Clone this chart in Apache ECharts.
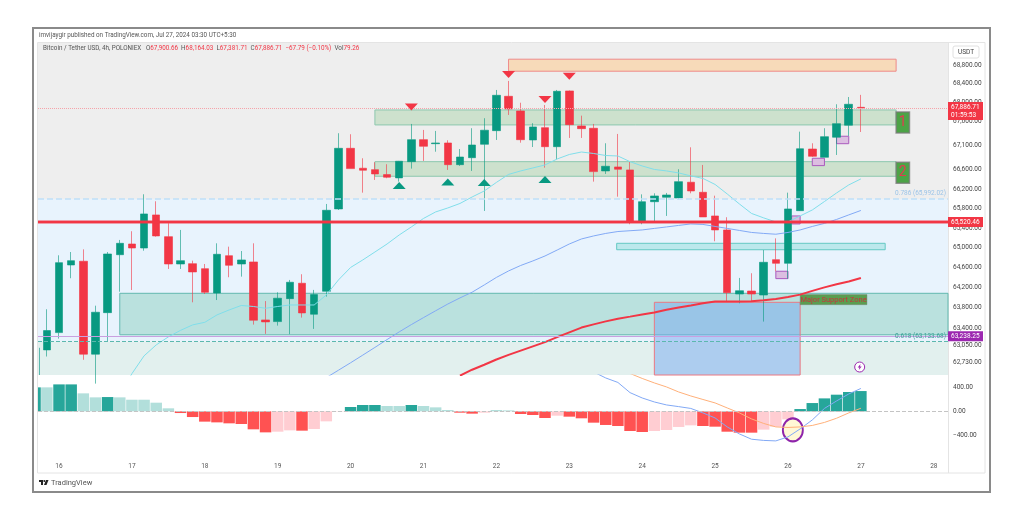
<!DOCTYPE html>
<html>
<head>
<meta charset="utf-8">
<title>BTC/USDT 4h</title>
<script src="https://cdn.jsdelivr.net/npm/echarts@6/dist/echarts.min.js"></script>
<style>
  html, body { margin: 0; padding: 0; background: #fff; }
  #chart { width: 1024px; height: 520px; }
</style>
</head>
<body>
<div id="chart"></div>
<script>
// bars are numbered from the "16" day label, 6 bars per day
const firstBar = -1
const opens = [62968,63308,64653,64728,62885,63702,64860,65076,64995,65667,65225,64673,64679,64579,64092,64840,64673,64714,63558,63525,63980,64287,63671,64126,65789,67041,66627,66598,66495,66427,66763,67222,67137,67152,66701,66846,67125,67410,68134,67824,67215,67473,67075,68247,67509,67460,66571,66654,66592,65524,65937,66028,66014,66338,66131,65646,65361,64072,64132,64052,64760,64687,65754,67026,66854,67272,67524,67900.66]
const closes = [63348,64700,64740,62885,63710,64874,65090,64995,65687,65239,64673,64740,64513,64106,64868,64647,64754,63552,63519,63988,64307,63696,64060,65762,67041,66619,66586,66509,66441,66772,67222,67083,67152,66701,66860,67110,67419,68155,67866,67221,67488,67075,68240,67536,67452,66557,66668,66606,65524,65937,66055,66075,66350,66158,65626,65361,64098,64138,64072,64707,64687,65789,67032,66875,67284,67557,67965,67886.71]
const lows = [62839,63190,64387,62775,62312,63131,64118,64152,64940,65225,64573,64573,63907,64072,63952,64407,64419,63466,63283,63446,63277,63604,63381,64020,65768,66619,66123,66385,66420,66350,66619,66778,66970,66592,66675,66571,65748,67215,67740,67158,67068,66639,66813,67257,67257,66350,66509,66040,65477,65477,65524,65646,65990,66110,65626,65131,63932,63887,63932,63525,64527,64379,65748,66860,66854,66902,67299,67381.71]
const highs = [63769,64848,64914,64968,63840,64914,65158,65335,66090,65946,65498,65361,64740,64673,65090,65022,64934,65090,63932,64106,64353,64467,64154,65891,67356,67335,66834,66751,66710,66778,67551,67425,67404,67209,67026,67461,67671,68268,68460,67998,67566,67950,68268,68257,67725,67551,67146,67341,66763,66088,66110,66117,66606,67062,66695,66061,65620,64393,64487,64954,65190,66123,67389,67146,67461,67965,68119,68164.03]

const cyanStart = 5
const cyanMa = [62100,62505,62852,63066,63224,63352,63460,63511,63657,63755,63844,63824,63789,63824,63854,63854,63854,64052,64353,64603,64754,64914,65076,65259,65422,65595,65728,65809,65901,66034,66158,66334,66499,66571,66633,66695,66819,66912,66964,66933,66891,66881,66763,66674,66602,66571,66530,66468,66416,66292,66096,65891,65697,65606,65524,65524,65646,65768,65941,66117,66282,66406]
const blueStart = 22
const blueMa = [62428,62572,62717,62866,63017,63171,63322,63466,63604,63739,63873,63994,64108,64253,64403,64533,64643,64734,64834,64954,65076,65178,65239,65290,65329,65345,65361,65392,65422,65453,65483,65473,65432,65392,65351,65310,65290,65274,65310,65361,65432,65494,65575,65667,65758]
const redStart = 33
const redMa = [62466,62582,62678,62781,62872,62954,63037,63120,63218,63312,63407,63470,63529,63582,63623,63665,63706,63761,63804,63844,63887,63921,63922,63924,63928,63948,63974,64014,64060,64134,64204,64268,64323,64393]

// MACD pane
const histCutOff = 396
const histStart = -1
const histValues = [396,445,445,297,231,236,231,192,192,143,50,-28,-94,-170,-182,-198,-209,-297,-347,-336,-314,-319,-292,-165,-5,72,105,105,88,88,105,88,66,22,-22,-38,-22,22,16,-44,-60,-110,-72,-88,-115,-187,-225,-242,-325,-341,-325,-308,-258,-231,-242,-253,-336,-352,-352,-302,-253,-132,38,137,214,275,319,335]
const histStrong = [0,1,1,0,0,1,0,0,0,0,0,1,1,1,1,1,1,1,1,0,0,1,0,0,0,1,1,1,0,0,1,0,0,0,1,1,0,0,0,1,1,1,0,1,1,1,1,1,1,1,0,0,0,0,1,1,1,1,1,0,0,0,1,1,1,1,1,1]
const macdStart = 44
const macdLine = [650,551,477,309,221,155,106,78,48,-26,-109,-257,-373,-460,-480,-488,-422,-290,-142,48,172,287,378]
const signalStart = 46
const signalLine = [700,625,543,469,403,320,254,196,139,56,-26,-125,-200,-257,-266,-257,-233,-183,-114,-26,51]

const priceTicks = [68800,68400,68000,67600,67100,66600,66200,65800,65400,65000,64600,64200,63800,63400,63050,62730]
const macdTicks = [400,0,-400]
const dayTicks = [0,6,12,18,24,30,36,42,48,54,60,66,72]
const dayLabels = ['16','17','18','19','20','21','22','23','24','25','26','27','28']

const lastPrice = 67886.71
const supportLine = 65520.46
const purpleLine = 63238.25
const fibHigh = 65992.02
const fibLow = 63133.68

const peakBars = [29,37,40,42]
const peakPrices = [67908,68599,68066,68557]
const troughBars = [28,32,35,40]
const troughPrices = [66272,66344,66334,66395]

const xMin = -1.73
const xMax = 73.17
const priceMin = 62479
const priceMax = 69272

const green = '#089981'
const red = '#f23645'

function fmt(v) {
  return v.toLocaleString('en-US', { minimumFractionDigits: 2, maximumFractionDigits: 2 })
}
function pairs(start, values) {
  return values.map((v, i) => [start + i, v])
}
function zone(x0, x1, top, bottom, fill, border, extra) {
  const first = Object.assign({
    xAxis: x0,
    yAxis: top,
    itemStyle: { color: fill, borderColor: border, borderWidth: 1 }
  }, extra || {})
  return [first, { xAxis: x1, yAxis: bottom }]
}
function flag(name, x0, x1, top, bottom, fill, textColor, fontSize, borderWidth) {
  const z = zone(x0, x1, top, bottom, fill, 'rgba(120,120,120,0.75)', {
    name: name,
    label: { show: true, position: 'inside', color: textColor, fontSize: fontSize, formatter: '{b}' }
  })
  z[0].itemStyle.borderWidth = borderWidth
  return z
}

const candles = opens.map((o, i) => [firstBar + i, o, closes[i], lows[i], highs[i]])

const areas = [
  zone(xMin, xMax, priceMax, fibHigh, '#eeeeee', 'transparent'),
  zone(xMin, xMax, fibHigh, fibLow, '#e8f3fd', 'transparent'),
  zone(xMin, xMax, fibLow, priceMin, '#e2f0ee', 'transparent'),
  zone(5, xMax, 64086, 63265, '#bae1de', '#63b9af'),
  zone(37, 68.9, 68924, 68667, '#f7dab9', '#ee8a8a'),
  zone(26, 68.9, 67845, 67530, '#cde1cd', '#8cc8af'),
  zone(26, 68.9, 66763, 66461, '#cde1cd', '#8cc8af'),
  zone(45.9, 68, 65090, 64960, '#bce8ec', '#64c8c3'),
  zone(49, 61, 63907, priceMin, 'rgba(120,170,240,0.5)', '#eb7882'),
  zone(64, 65, 67293, 67137, '#dcbee1', '#aa5abe'),
  zone(62, 63, 66834, 66681, '#dcbee1', '#aa5abe'),
  zone(60.3, 61, 65646, 65483, '#dcbee1', '#aa5abe'),
  zone(59, 60, 64527, 64379, '#dcbee1', '#aa5abe'),
  flag('1', 68.9, 70, 67803, 67362, '#4ca346', '#e53950', 14, 1.5),
  flag('2', 68.9, 70, 66751, 66317, '#4ca346', '#e53950', 14, 1.5),
  flag('Major Support Zone', 61, 66.5, 64060, 63860, '#5a9e50', '#c8343c', 7.5, 0.5)
]

function priceTag(value, text, color, dy) {
  return {
    yAxis: value,
    lineStyle: { width: 0, color: 'transparent' },
    label: {
      show: true,
      position: 'end',
      distance: 0,
      offset: [0, dy],
      formatter: text,
      color: '#fff',
      backgroundColor: color,
      fontSize: 6.5,
      lineHeight: 8,
      width: 29,
      align: 'left',
      padding: [1, 3]
    }
  }
}

const lines = [
  { yAxis: lastPrice, lineStyle: { color: '#f5a3aa', type: 'dotted', width: 1 }, label: { show: false } },
  { yAxis: fibHigh, lineStyle: { color: '#bfe0f8', type: 'dashed', width: 1.5 },
    label: { show: true, position: 'insideEndTop', distance: 2, color: '#9cc4e8', fontSize: 6.5, formatter: '0.786 (' + fmt(fibHigh) + ')' } },
  { yAxis: fibLow, lineStyle: { color: '#5cb8ae', type: 'dashed', width: 1 },
    label: { show: true, position: 'insideEndTop', distance: 2, color: '#3aa397', fontSize: 6.5, formatter: '0.618 (' + fmt(fibLow) + ')' } },
  { yAxis: purpleLine, lineStyle: { color: '#c9a0e0', type: 'solid', width: 1 }, label: { show: false } },
  { yAxis: supportLine, lineStyle: { color: 'rgba(242,54,69,0.45)', type: 'solid', width: 4 }, label: { show: false } },
  { yAxis: supportLine, lineStyle: { color: red, type: 'solid', width: 2 }, label: { show: false } },
  [
    { coord: [-1.65, 63010], lineStyle: { color: '#5cb8ae', type: 'solid', width: 1 }, label: { show: false } },
    { coord: [-1.65, priceMin] }
  ],
  priceTag(lastPrice, fmt(lastPrice) + '\n01:59:53', red, 3),
  priceTag(supportLine, fmt(supportLine), red, 0),
  priceTag(purpleLine, fmt(purpleLine), '#9c27b0', 0)
]

const option = {
  animation: false,
  backgroundColor: '#fff',
  textStyle: { fontFamily: 'Roboto, sans-serif' },
  title: [
    {
      text: 'imvijaygir published on TradingView.com, Jul 27, 2024 03:30 UTC+5:30',
      left: 39, top: 32, padding: 0,
      textStyle: { fontSize: 6.3, fontWeight: 'normal', color: '#555' }
    },
    {
      text: '{g|Bitcoin / Tether USD, 4h, POLONIEX   O}{r|67,900.66}{g|  H}{r|68,164.03}{g|  L}{r|67,381.71}{g|  C}{r|67,886.71}{r|  −67.79 (−0.10%)}{g|  Vol}{r|79.26}',
      left: 43, top: 45, padding: 0,
      textStyle: {
        fontSize: 6.3,
        fontWeight: 'normal',
        rich: {
          g: { color: '#555', fontSize: 6.3 },
          r: { color: red, fontSize: 6.3 }
        }
      }
    }
  ],
  grid: [
    { left: 38, right: 76, top: 43, height: 332 },
    { left: 38, right: 76, top: 375, height: 84.8 }
  ],
  xAxis: [
    {
      type: 'value', gridIndex: 0, min: xMin, max: xMax,
      axisLine: { show: false }, axisTick: { show: false }, axisLabel: { show: false }, splitLine: { show: false }
    },
    {
      type: 'value', gridIndex: 1, min: xMin, max: xMax,
      axisLine: { show: false }, axisTick: { show: false }, splitLine: { show: false },
      axisLabel: {
        customValues: dayTicks,
        margin: 3,
        fontSize: 6.5,
        color: '#555',
        formatter: v => dayLabels[dayTicks.indexOf(v)]
      }
    }
  ],
  yAxis: [
    {
      type: 'log', gridIndex: 0, position: 'right', min: priceMin, max: priceMax,
      axisLine: { show: false }, axisTick: { show: false }, splitLine: { show: false },
      axisLabel: { customValues: priceTicks, margin: 5, fontSize: 6.5, color: '#444', formatter: v => fmt(v) }
    },
    {
      type: 'value', gridIndex: 1, position: 'right', min: -800, max: 600,
      axisLine: { show: false }, axisTick: { show: false }, splitLine: { show: false },
      axisLabel: {
        customValues: macdTicks, margin: 5, fontSize: 6.5, color: '#444',
        formatter: v => fmt(v).replace('-', '−')
      }
    }
  ],
  series: [
    {
      name: 'price',
      type: 'candlestick',
      xAxisIndex: 0,
      yAxisIndex: 0,
      z: 3,
      barWidth: 8,
      encode: { x: 0, y: [1, 2, 3, 4] },
      data: candles,
      itemStyle: {
        color: green,
        color0: red,
        borderColor: 'rgba(8,153,129,0.6)',
        borderColor0: 'rgba(242,54,69,0.6)',
        borderWidth: 1
      },
      markArea: { silent: true, data: areas },
      markLine: { silent: true, symbol: 'none', animation: false, data: lines }
    },
    {
      name: 'ma cyan', type: 'line', xAxisIndex: 0, yAxisIndex: 0, z: 4, showSymbol: false,
      data: pairs(cyanStart, cyanMa), lineStyle: { color: '#80deea', width: 1 }
    },
    {
      name: 'ma blue', type: 'line', xAxisIndex: 0, yAxisIndex: 0, z: 4, showSymbol: false,
      data: pairs(blueStart, blueMa), lineStyle: { color: '#82a9f5', width: 1 }
    },
    {
      name: 'ma red', type: 'line', xAxisIndex: 0, yAxisIndex: 0, z: 4, showSymbol: false,
      data: pairs(redStart, redMa), lineStyle: { color: red, width: 2 }
    },
    {
      name: 'peaks', type: 'scatter', xAxisIndex: 0, yAxisIndex: 0, z: 5,
      symbol: 'triangle', symbolSize: [13, 7], symbolRotate: 180,
      data: peakBars.map((b, i) => [b, peakPrices[i]]), itemStyle: { color: red, opacity: 1 }
    },
    {
      name: 'troughs', type: 'scatter', xAxisIndex: 0, yAxisIndex: 0, z: 5,
      symbol: 'triangle', symbolSize: [13, 7],
      data: troughBars.map((b, i) => [b, troughPrices[i]]), itemStyle: { color: green, opacity: 1 }
    },
    {
      name: 'alert ring', type: 'scatter', xAxisIndex: 0, yAxisIndex: 0, z: 5,
      symbol: 'circle', symbolSize: 10, data: [[65.9, 62634]],
      itemStyle: { color: '#fff', borderColor: '#9c27b0', borderWidth: 1, opacity: 1 }
    },
    {
      name: 'alert bolt', type: 'scatter', xAxisIndex: 0, yAxisIndex: 0, z: 6,
      symbol: 'path://M6 0 L1 7 L4 7 L3 12 L8 5 L5 5 Z', symbolSize: [4, 6], data: [[65.9, 62634]],
      itemStyle: { color: '#9c27b0', opacity: 1 }
    },
    {
      name: 'macd hist', type: 'bar', xAxisIndex: 1, yAxisIndex: 1, z: 2,
      barWidth: 11.5,
      data: histValues.map((v, i) => ({
        value: [histStart + i, v],
        itemStyle: { color: v >= 0 ? (histStrong[i] ? '#26a69a' : '#b2dfdb') : (histStrong[i] ? '#ff5252' : '#ffcdd2') }
      })),
      // only the right edge of the bar before the first one is inside the pane
      markArea: {
        silent: true,
        data: [zone(xMin, -1.5, histCutOff, 0, '#26a69a', 'transparent')]
      },
      markLine: {
        silent: true, symbol: 'none', animation: false,
        data: [{ yAxis: 0, lineStyle: { color: '#c4c4c4', type: 'dashed', width: 1 }, label: { show: false } }]
      }
    },
    {
      name: 'cross mark', type: 'scatter', xAxisIndex: 1, yAxisIndex: 1, z: 3,
      symbol: 'circle', symbolSize: [20, 23], data: [[60.4, -307]],
      itemStyle: { color: '#fff8d6', borderColor: '#8e24aa', borderWidth: 2, opacity: 1 }
    },
    {
      name: 'macd', type: 'line', xAxisIndex: 1, yAxisIndex: 1, z: 4, showSymbol: false,
      data: pairs(macdStart, macdLine), lineStyle: { color: '#82a9f5', width: 1 }
    },
    {
      name: 'signal', type: 'line', xAxisIndex: 1, yAxisIndex: 1, z: 4, showSymbol: false,
      data: pairs(signalStart, signalLine), lineStyle: { color: '#ffb07a', width: 1 }
    }
  ],
  graphic: [
    { type: 'rect', z: 0, silent: true, shape: { x: 33, y: 28, width: 957, height: 464 }, style: { fill: '#fff', stroke: '#8a8a8a', lineWidth: 2 } },
    { type: 'rect', z: 0, silent: true, shape: { x: 37.5, y: 42.5, width: 947.5, height: 430.5 }, style: { fill: 'transparent', stroke: '#e4e4e4', lineWidth: 1 } },
    { type: 'line', z: 0, silent: true, shape: { x1: 948.5, y1: 43, x2: 948.5, y2: 473 }, style: { stroke: '#e4e4e4', lineWidth: 1 } },
    { type: 'rect', z: 10, silent: true, shape: { x: 953, y: 46, width: 26, height: 12, r: 2 }, style: { fill: '#fff', stroke: '#e0e0e0', lineWidth: 1 } },
    { type: 'text', z: 11, silent: true, x: 966, y: 52, style: { text: 'USDT', fontSize: 6.5, fill: '#444', align: 'center', verticalAlign: 'middle', fontFamily: 'Roboto, sans-serif' } },
    { type: 'polygon', z: 10, silent: true, shape: { points: [[39, 480], [43, 480], [43, 485], [41, 485], [41, 482], [39, 482]] }, style: { fill: '#222' } },
    { type: 'circle', z: 10, silent: true, shape: { cx: 44.3, cy: 481, r: 1 }, style: { fill: '#222' } },
    { type: 'polygon', z: 10, silent: true, shape: { points: [[46, 480], [48.5, 480], [46.5, 485], [44, 485]] }, style: { fill: '#222' } },
    { type: 'text', z: 10, silent: true, x: 51, y: 482.7, style: { text: 'TradingView', fontSize: 7.5, fill: '#555', verticalAlign: 'middle', fontFamily: 'Roboto, sans-serif' } }
  ]
}

const chart = echarts.init(document.getElementById('chart'), null, { renderer: 'canvas' })
chart.setOption(option)
</script>
</body>
</html>
